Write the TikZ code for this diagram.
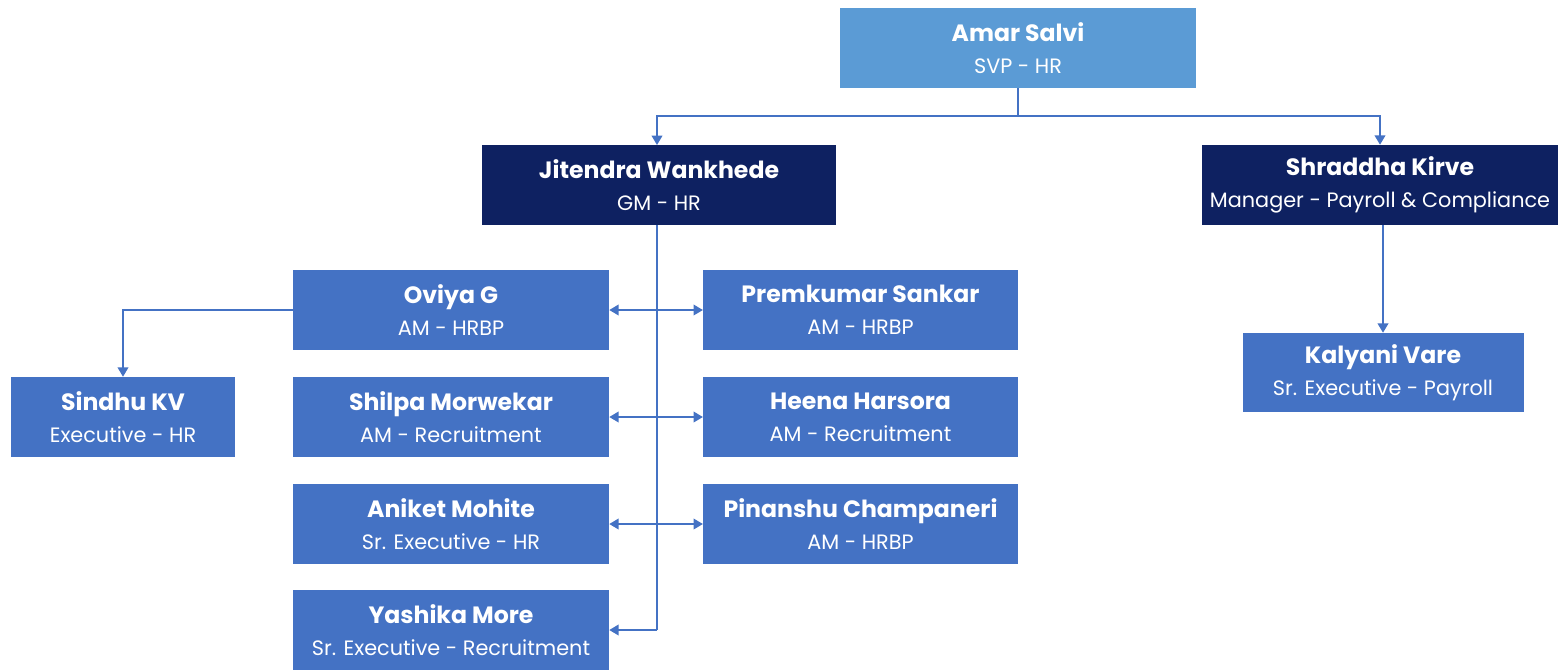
\documentclass[tikz,border=0pt]{standalone}
\usepackage{fontspec}
\setmainfont{Poppins}
\usetikzlibrary{arrows.meta}
\definecolor{topblue}{HTML}{5B9BD5}
\definecolor{navy}{HTML}{0E2161}
\definecolor{midblue}{HTML}{4472C4}
\definecolor{linec}{HTML}{4472C4}
\tikzset{
  box/.style={rectangle, draw=none, text=white, align=center, inner sep=0pt, minimum height=60pt, font=\fontsize{15.6}{24}\selectfont},
  topbox/.style={box, fill=topblue},
  navybox/.style={box, fill=navy},
  bluebox/.style={box, fill=midblue},
  conn/.style={draw=linec, line width=1.1pt},
  arr/.style={conn, -{Triangle[length=7pt,width=8pt]}},
  darr/.style={conn, {Triangle[length=7pt,width=8pt]}-{Triangle[length=7pt,width=8pt]}},
}
\newcommand{\nm}[1]{{\fontsize{17.7}{20}\selectfont\bfseries #1}}
\begin{document}
\begin{tikzpicture}[x=0.75pt,y=-0.75pt]
\useasboundingbox (0,0) rectangle (1565,669);
\node[topbox, minimum width=267pt] (amar) at (1018,48) {\nm{Amar Salvi}\\SVP - HR};
\node[navybox, minimum width=265.5pt] (jit) at (659,185) {\nm{Jitendra Wankhede}\\GM - HR};
\node[navybox, minimum width=267pt] (shr) at (1380,185) {\nm{Shraddha Kirve}\\Manager - Payroll \& Compliance};
\node[bluebox, minimum width=237pt] (ovi) at (451,310) {\nm{Oviya G}\\AM - HRBP};
\node[bluebox, minimum width=236pt] (pre) at (860.5,310) {\nm{Premkumar Sankar}\\AM - HRBP};
\node[bluebox, minimum width=237pt] (shi) at (451,417) {\nm{Shilpa Morwekar}\\AM - Recruitment};
\node[bluebox, minimum width=236pt] (hee) at (860.5,417) {\nm{Heena Harsora}\\AM - Recruitment};
\node[bluebox, minimum width=237pt] (ani) at (451,524) {\nm{Aniket Mohite}\\Sr. Executive - HR};
\node[bluebox, minimum width=236pt] (pin) at (860.5,524) {\nm{Pinanshu Champaneri}\\AM - HRBP};
\node[bluebox, minimum width=237pt] (yas) at (451,630) {\nm{Yashika More}\\Sr. Executive - Recruitment};
\node[bluebox, minimum width=168pt] (sin) at (123,417) {\nm{Sindhu KV}\\Executive - HR};
\node[bluebox, minimum width=210.75pt, minimum height=59.25pt] (kal) at (1383,372.5) {\nm{Kalyani Vare}\\Sr. Executive - Payroll};
% connectors
\coordinate (bus) at (1018,116);
\draw[conn] (amar.south -| bus) -- (bus);
\draw[arr] (bus) -| (657,145);
\draw[arr] (bus) -| (shr.north);
\coordinate (tr) at (657,630);
\draw[conn] (657,225) -- (tr);
\draw[arr] (tr) -- (yas.east);
\draw[darr] (ovi.east) -- (pre.west);
\draw[darr] (shi.east) -- (hee.west);
\draw[darr] (ani.east) -- (pin.west);
\draw[arr] (ovi.west) -| (sin.north);
\draw[arr] (shr.south -| kal.north) -- (kal.north);
\end{tikzpicture}
\end{document}
